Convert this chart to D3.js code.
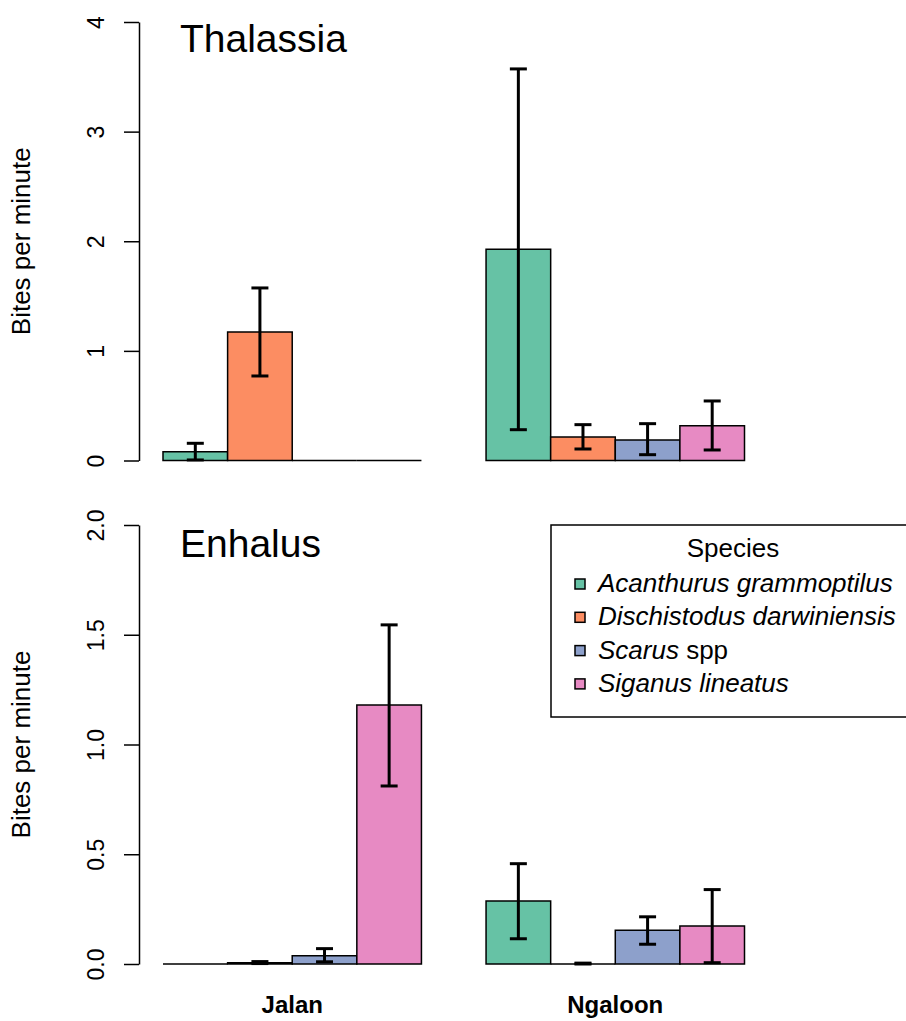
<!DOCTYPE html>
<html>
<head>
<meta charset="utf-8">
<script src="https://cdn.jsdelivr.net/npm/d3@7"></script>
<style>
  html, body { margin: 0; padding: 0; background: #ffffff; }
  svg { display: block; font-family: "Liberation Sans", Arial, Helvetica, sans-serif; }
</style>
</head>
<body>
<svg id="chart" width="906" height="1021"></svg>
<script>
// Sites on the x axis and the four herbivore species
const sites = ["Jalan", "Ngaloon"];
const species = ["Acanthurus grammoptilus", "Dischistodus darwiniensis", "Scarus spp", "Siganus lineatus"];
const colors = ["#66c2a5", "#fc8d62", "#8da0cb", "#e78ac3"];

// Thalassia: mean bites per minute, with lower / upper error limits (null = no bar drawn)
const thalassiaJalan   = [0.08, 1.172, 0, 0];
const thalassiaJalanLo = [0.005, 0.771, null, null];
const thalassiaJalanHi = [0.157, 1.574, null, null];
const thalassiaNgaloon   = [1.927, 0.214, 0.187, 0.318];
const thalassiaNgaloonLo = [0.281, 0.105, 0.053, 0.096];
const thalassiaNgaloonHi = [3.572, 0.327, 0.336, 0.543];

// Enhalus
const enhalusJalan   = [0, 0.006, 0.038, 1.180];
const enhalusJalanLo = [null, 0.002, 0.010, 0.811];
const enhalusJalanHi = [null, 0.011, 0.070, 1.545];
const enhalusNgaloon   = [0.287, 0, 0.154, 0.173];
const enhalusNgaloonLo = [0.115, 0, 0.090, 0.006];
const enhalusNgaloonHi = [0.457, 0.004, 0.215, 0.339];

const thalassiaTicks = [0, 1, 2, 3, 4];
const enhalusTicks = [0, 0.5, 1.0, 1.5, 2.0];

function rows(means, los, his) {
  const out = [];
  means.forEach((site, g) => site.forEach((v, s) => {
    out.push({ g, s, v, lo: los[g][s], hi: his[g][s] });
  }));
  return out;
}

const svg = d3.select("#chart");

// bar slots: 4 bars per site, one empty slot between the sites
const x = d3.scaleLinear().domain([0, 9]).range([163, 744.5]);
const barW = x(1) - x(0);
const slot = d => d.g * 5 + d.s;

function panel(opts) {
  const y = d3.scaleLinear().domain(opts.domain).range(opts.range);
  const g = svg.append("g");

  const axis = d3.axisLeft(y)
    .tickValues(opts.ticks)
    .tickFormat(opts.format)
    .tickSize(15)
    .tickSizeOuter(0);
  const ax = g.append("g").attr("transform", "translate(139,0)").call(axis);
  ax.select(".domain").attr("stroke", "#000").attr("stroke-width", 1.5);
  ax.selectAll(".tick line").attr("stroke", "#000").attr("stroke-width", 1.5);
  ax.selectAll(".tick text")
    .attr("x", null).attr("dy", null)
    .attr("transform", "translate(-35,0) rotate(-90)")
    .attr("text-anchor", "middle")
    .attr("font-size", 23)
    .attr("font-family", "'Liberation Sans', Arial, sans-serif")
    .attr("fill", "#000");

  g.append("text")
    .attr("transform", `translate(30,${(opts.range[0] + opts.range[1]) / 2}) rotate(-90)`)
    .attr("text-anchor", "middle")
    .attr("font-size", 26)
    .text("Bites per minute");

  g.append("text")
    .attr("x", 180).attr("y", opts.titleY)
    .attr("font-size", 39)
    .text(opts.title);

  // bars as closed outlines so that zero values still show as a line on the baseline
  g.selectAll("path.bar").data(opts.data).join("path")
    .attr("class", "bar")
    .attr("d", d => {
      const x0 = x(slot(d)), y0 = y(0), y1 = y(d.v);
      return `M${x0},${y0}H${x0 + barW}V${y1}H${x0}Z`;
    })
    .attr("fill", d => colors[d.s])
    .attr("stroke", "#000")
    .attr("stroke-width", 1.5);

  const err = opts.data.filter(d => d.lo !== null);
  const cx = d => x(slot(d) + 0.5);
  const eb = g.append("g").attr("stroke", "#000").attr("stroke-width", 3).attr("fill", "none");
  eb.selectAll("line.stem").data(err).join("line")
    .attr("x1", cx).attr("x2", cx)
    .attr("y1", d => y(d.lo)).attr("y2", d => y(d.hi));
  eb.selectAll("line.capHi").data(err).join("line")
    .attr("x1", d => cx(d) - 8.5).attr("x2", d => cx(d) + 8.5)
    .attr("y1", d => y(d.hi)).attr("y2", d => y(d.hi));
  eb.selectAll("line.capLo").data(err).join("line")
    .attr("x1", d => cx(d) - 8.5).attr("x2", d => cx(d) + 8.5)
    .attr("y1", d => y(d.lo)).attr("y2", d => y(d.lo));
}

panel({
  title: "Thalassia", titleY: 52,
  domain: [0, 4], range: [460.5, 22],
  ticks: thalassiaTicks, format: d3.format("d"),
  data: rows([thalassiaJalan, thalassiaNgaloon],
             [thalassiaJalanLo, thalassiaNgaloonLo],
             [thalassiaJalanHi, thalassiaNgaloonHi])
});

panel({
  title: "Enhalus", titleY: 557,
  domain: [0, 2], range: [964, 525],
  ticks: enhalusTicks, format: d3.format(".1f"),
  data: rows([enhalusJalan, enhalusNgaloon],
             [enhalusJalanLo, enhalusNgaloonLo],
             [enhalusJalanHi, enhalusNgaloonHi])
});

// site labels under the lower panel
svg.selectAll("text.site").data(sites).join("text")
  .attr("class", "site")
  .attr("x", (d, i) => x(i * 5 + 2))
  .attr("y", 1013)
  .attr("text-anchor", "middle")
  .attr("font-size", 24)
  .attr("font-weight", "bold")
  .text(d => d);

// legend
const lg = svg.append("g");
lg.append("rect")
  .attr("x", 551).attr("y", 525).attr("width", 360).attr("height", 192)
  .attr("fill", "#fff").attr("stroke", "#000").attr("stroke-width", 1.5);
lg.append("text")
  .attr("x", 733).attr("y", 557)
  .attr("text-anchor", "middle")
  .attr("font-size", 26)
  .text("Species");
species.forEach((name, i) => {
  const base = 592 + i * 33.3;
  lg.append("rect")
    .attr("x", 575).attr("y", base - 13).attr("width", 10).attr("height", 10)
    .attr("fill", colors[i]).attr("stroke", "#000").attr("stroke-width", 1.5);
  const t = lg.append("text").attr("x", 598).attr("y", base).attr("font-size", 26);
  const parts = name.split(" ");
  if (parts[1] === "spp") {
    t.append("tspan").attr("font-style", "italic").text(parts[0]);
    t.append("tspan").text(" spp");
  } else {
    t.attr("font-style", "italic").text(name);
  }
});
</script>
</body>
</html>
